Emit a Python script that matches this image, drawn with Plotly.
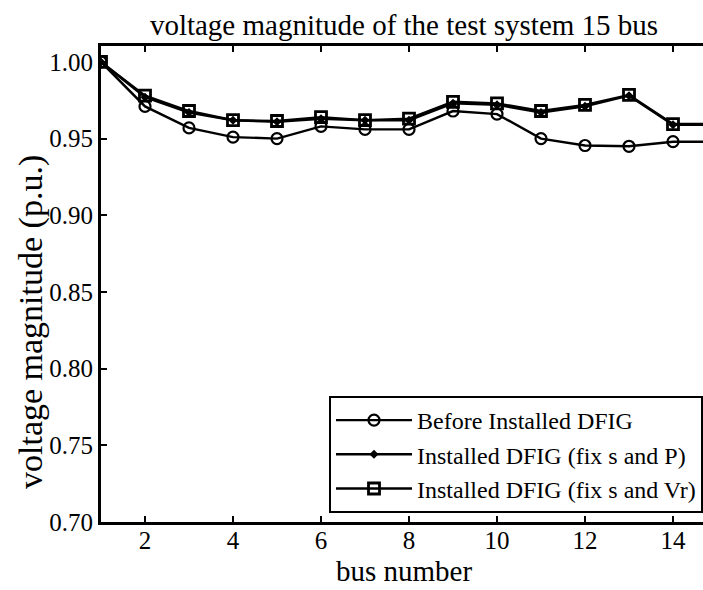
import plotly.graph_objects as go

bus = list(range(1, 16))
v_before = [1.000, 0.971, 0.957, 0.951, 0.950, 0.958, 0.956, 0.956, 0.968, 0.966,
            0.950, 0.9455, 0.945, 0.948, 0.948]
v_fix_p = [1.000, 0.977, 0.967, 0.962, 0.961, 0.963, 0.962, 0.962, 0.973, 0.972,
           0.967, 0.971, 0.978, 0.959, 0.959]
v_fix_vr = [1.000, 0.978, 0.968, 0.962, 0.9615, 0.964, 0.962, 0.963, 0.974, 0.973,
            0.968, 0.972, 0.9785, 0.9595, 0.9595]
x_ticks = [2, 4, 6, 8, 10, 12, 14]
y_ticks = [0.70, 0.75, 0.80, 0.85, 0.90, 0.95, 1.00]

FONT = "Liberation Serif"
L, T, B = 101, 46, 68
W, H = 703, 590
PW, PH = W - L, H - T - B


def px_x(px):
    return (px - L) / PW


def px_y(py):
    return (H - B - py) / PH


fig = go.Figure()
fig.add_trace(go.Scatter(x=bus, y=v_before, mode="lines+markers", name="Before Installed DFIG",
                         line=dict(color="black", width=2.4),
                         marker=dict(symbol="circle-open", size=11, color="black", line=dict(width=2.2))))
fig.add_trace(go.Scatter(x=bus, y=v_fix_p, mode="lines+markers", name="Installed DFIG (fix s and P)",
                         line=dict(color="black", width=2.4),
                         marker=dict(symbol="diamond", size=7, color="black")))
fig.add_trace(go.Scatter(x=bus, y=v_fix_vr, mode="lines+markers", name="Installed DFIG (fix s and Vr)",
                         line=dict(color="black", width=2.4),
                         marker=dict(symbol="square-open", size=11, color="black", line=dict(width=2.8))))

fig.update_layout(
    width=W, height=H,
    margin=dict(l=L, r=0, t=T, b=B, autoexpand=False),
    paper_bgcolor="white", plot_bgcolor="white",
    font=dict(family=FONT, size=25, color="black"),
    title=dict(text="voltage magnitude of the test system 15 bus", x=404 / W, xanchor="center",
               y=1 - 25 / H, yanchor="middle", font=dict(family=FONT, size=29, color="black")),
    legend=dict(x=1, xanchor="right", y=px_y(513), yanchor="bottom",
                bordercolor="black", borderwidth=2, bgcolor="white",
                font=dict(family=FONT, size=24, color="black"),
                tracegroupgap=0, itemwidth=76),
    showlegend=True,
    annotations=[
        dict(text="bus number", xref="paper", yref="paper", x=px_x(404), y=px_y(571),
             xanchor="center", yanchor="middle", showarrow=False,
             font=dict(family=FONT, size=29, color="black")),
        dict(text="voltage magnitude (p.u.)", xref="paper", yref="paper", x=px_x(31), y=px_y(322),
             xanchor="center", yanchor="middle", textangle=-90, showarrow=False,
             font=dict(family=FONT, size=34, color="black")),
    ],
)
fig.update_xaxes(range=[1, 1 + PW / 44.0], tickvals=x_ticks, showgrid=False, zeroline=False,
                 showline=True, linecolor="black", linewidth=3, mirror="ticks",
                 ticks="inside", ticklen=6, tickwidth=2, tickcolor="black",
                 ticklabelstandoff=-6,
                 tickfont=dict(family=FONT, size=25))
fig.update_yaxes(range=[0.70, 1.0104], tickvals=y_ticks, tickformat=".2f", showgrid=False,
                 zeroline=False, showline=True, linecolor="black", linewidth=3, mirror=False,
                 ticks="inside", ticklen=6, tickwidth=2, tickcolor="black",
                 tickfont=dict(family=FONT, size=25))

fig.write_html("out.html", config={"displayModeBar": False},
               post_script="document.body.style.margin='0';document.body.style.overflow='hidden';")
